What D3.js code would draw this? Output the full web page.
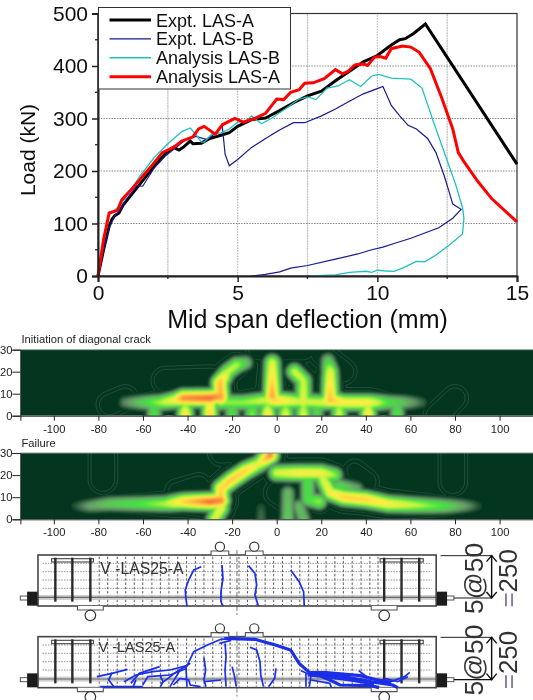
<!DOCTYPE html>
<html><head><meta charset="utf-8">
<script src="https://cdn.jsdelivr.net/npm/d3@7"></script>
<style>html,body{margin:0;padding:0;background:#fff}svg{display:block}text{font-family:"Liberation Sans",Arial,sans-serif}</style>
</head><body><svg id="c" width="533" height="700"></svg>
<script>
// ---------- Load-deflection curves [deflection mm, load kN]
const exptA=[[0,0],[0.2,50],[0.4,95],[0.5,108],[0.6,115],[0.75,120],[0.9,135],[1.2,155],[1.5,175],[1.8,195],[2.1,215],[2.4,232],[2.7,245],[2.9,240],[3.05,245],[3.3,257],[3.4,252],[3.7,253],[4.0,262],[4.4,268],[4.7,273],[5,285],[5.5,298],[6,301],[6.5,315],[7,330],[7.5,343],[8,352],[8.5,372],[9,390],[9.5,408],[10,420],[10.5,440],[10.8,450],[11.0,452],[11.3,462],[11.72,480],[15,213]];
const exptB=[[0,0],[0.2,48],[0.4,92],[0.6,115],[0.8,125],[1.0,145],[1.4,172],[1.6,171],[2,205],[2.4,228],[2.8,245],[3.1,258],[3.5,266],[3.9,260],[4.2,272],[4.45,285],[4.55,232],[4.7,210],[5,222],[5.5,245],[6,262],[6.5,278],[7,292],[7.4,292],[8,305],[8.5,318],[9,333],[9.5,347],[10,357],[10.2,361],[10.5,325],[10.8,305],[11.1,287],[11.4,280],[11.8,262],[12.1,235],[12.4,190],[12.6,155],[12.7,137],[13.0,127],[12.7,110],[12.2,92],[11.7,82],[11.2,72],[10.6,62],[10.2,55],[9.8,50],[9.3,42],[8.5,32],[7.5,20],[6.9,15],[6.5,8],[6,3],[5.5,0]];
const analysisB=[[0,0],[0.2,65],[0.4,118],[0.7,130],[1.0,150],[1.5,190],[2,225],[2.5,252],[3,275],[3.3,282],[3.5,270],[3.7,255],[3.8,255],[4.1,272],[4.4,272],[4.7,280],[5,293],[5.3,295],[5.5,305],[5.85,290],[6.2,300],[6.7,318],[7.2,337],[7.5,341],[7.8,336],[8.2,358],[8.6,362],[9,374],[9.4,361],[9.8,381],[10.05,384],[10.5,377],[11.2,375],[11.6,358],[12,295],[12.5,220],[12.8,175],[13.05,130],[13.1,110],[13.05,80],[12.6,60],[12.1,40],[11.7,27],[11.4,28],[10.9,15],[10.6,9],[10.2,10],[10,11],[9.8,7],[9.6,9],[9,7],[8.5,2],[7.6,0]];
const analysisA=[[0,0],[0.2,70],[0.4,120],[0.7,125],[0.85,145],[1.2,165],[1.6,190],[2,215],[2.3,235],[2.7,245],[3,257],[3.4,265],[3.6,280],[3.8,285],[4.2,270],[4.45,288],[4.9,300],[5.2,293],[5.6,300],[6,310],[6.4,337],[6.65,336],[6.9,350],[7.2,355],[7.4,367],[7.7,368],[8.1,376],[8.5,393],[8.75,385],[8.95,390],[9.2,402],[9.5,404],[9.65,401],[9.9,417],[10.1,418],[10.3,415],[10.5,433],[10.9,438],[11.2,436],[11.5,426],[11.9,395],[12.3,340],[12.7,280],[12.9,235],[13.1,218],[13.6,180],[14.1,147],[15,103]];
const seriesNames=["Expt. LAS-A","Expt. LAS-B","Analysis LAS-B","Analysis LAS-A"];
const xTicks=[0,5,10,15], xMinor=[2.5,7.5,12.5], yTicks=[0,100,200,300,400,500], yMinor=[50,150,250,350,450];
// ---------- Strain-field ridges [x, y, intensity]
const initRidges=[
 [[-68,6,.16],[-60,6,.3],[-52,6,.45],[-46,7,.6],[-42,8,.93],[-30,8,1],[-25,9,.88]],
 [[-25,6,.42],[-15,6,.42],[-5,7,.5],[-1,7,.72],[10,6.5,.5],[20,6,.5],[25,7,.75],[30,6,.62],[41,6,.62],[50,6,.34],[57,6,.26],[65,6,.12]],
 [[-25,8,.85],[-25.5,15,.8],[-22,20,.48],[-18,23,.46],[-14,24,.28]],
 [[-2,9,.88],[-2,15,.72],[-2,24,.55]],
 [[8,20,.5],[12,16,.48],[12,6,.55]],
 [[24,7,.8],[24,20,.55],[23,25,.28]],
 [[-41,0,.72],[-41,5,.4]],[[-30,0,.72],[-30,6,.6]],[[-4,0,.7],[-4,5,.4]],[[4,0,.58],[4,5,.35]],[[12,0,.55],[12,5,.4]],[[28,0,.52],[28,5,.4]],[[41,0,.72],[41,5,.4]],
 [[-20,0,.34],[-20,5,.28]],[[-11,0,.42],[-11,5,.3]],[[18,0,.3],[18,5,.3]],[[-55,0,.36],[-55,5,.28]],[[54,0,.36],[54,5,.28]]];
const failRidges=[
 [[-90,6,.1],[-84,6,.2],[-75,7,.28],[-60,7,.36],[-50,7,.46],[-42,8,.72],[-30,8,1],[-25,8.5,.95]],
 [[-25,8,.8],[-25,14,.72],[-20,18,.76],[-14,22,.72],[-8,25,.55],[-3,29,.95],[-3,33,.85]],
 [[0,21,.52],[10,21,.62],[20,21,.6],[26,20,.42]],
 [[20,20,.5],[24,12,.6],[30,10,.72],[40,9,.72],[50,7,.62],[60,6.5,.5],[75,6,.34],[84,6,.2],[90,6,.1]],
 [[14,17,.34],[14,9,.34],[19,8,.42]],
 [[-25,5,.58],[-28,0,.52]],[[-7,0,.12],[-7,5,.1]],[[5,0,.28],[5,12,.24]],[[12,0,.25],[10,6,.24]],[[28,15,.32],[36,14,.2]]];
const initOutline=[[[-50,16,.55],[-30,17,.5]],[[-8,30,.5],[12,30,.5]],[[20,28,.5],[30,20,.5]],[[-75,5,.5],[-68,8,.5]],[[72,0,.55],[80,8,.5]]];
const failOutline=[[[-78,30,.6],[-78,18,.6]],[[79,30,.6],[79,17,.6]],[[-25,30,.5],[-8,30,.4]],[[-35,15,.5],[-45,13,.4]],[[40,17,.5],[35,22,.4]],[[0,12,.5],[10,5,.5]]];
const fieldXTicks=[-100,-80,-60,-40,-20,0,20,40,60,80,100], fieldYTicks=[0,10,20,30];
// ---------- Beam sketches (digitised sketch units, y in absolute sketch units)
const stirrupX=[163,213,266,1130,1181,1233];
const webGridX=[292,317,345,370,395,420,447,472,497,523,549,575,600,626,652,677,703,728,754,780,805,831,857,882,908,934,959,985,1010,1036,1062,1088,1112];
const webGridY=[25,50,75,100];
const earlyCracks=[
 [[592,95],[570,105],[555,135],[545,165],[547,190],[550,213]],
 [[653,90],[656,130],[650,170],[650,200],[656,213]],
 [[731,92],[750,115],[755,150],[750,180],[760,213]],
 [[855,105],[880,140],[893,170],[895,213]]];
const failThin=[
 [[549,395],[570,350],[610,330],[650,313],[690,310]],[[645,325],[680,316]],
 [[662,325],[665,365],[662,405],[665,455]],[[683,395],[690,425],[695,455]],
 [[735,337],[755,345],[765,380],[767,420],[775,455]],
 [[600,368],[605,405],[600,435],[606,455]],[[812,400],[808,430],[790,455]],
 [[285,425],[330,415],[375,403]],[[385,445],[410,415],[470,395]],[[330,412],[320,435],[335,455]],
 [[475,445],[520,410],[560,385]],[[420,450],[435,425],[500,420],[550,400]],[[470,420],[480,440],[472,455]],
 [[510,450],[530,430],[555,435],[560,450],[590,455]],[[295,455],[370,455],[420,455]],[[600,440],[650,435]],
 [[365,440],[400,420],[450,410],[500,405],[550,392]],[[500,455],[515,430],[530,405]],[[392,455],[400,435]],[[547,395],[550,455]],
 [[885,407],[915,420],[910,455]],[[915,435],[970,445],[975,458]],[[1055,407],[1085,430],[1150,440],[1190,425],[1205,412]],
 [[900,415],[900,455]],[[1130,430],[1170,440],[1200,425]]];
const failThick=[
 [[660,310],[750,313],[810,330],[855,345],[880,385],[910,412],[960,413],[1060,422],[1110,435],[1150,442]],
 [[925,415],[970,435],[1000,450],[1090,452],[1115,458]],
 [[940,418],[1010,425],[1090,440],[1155,450],[1170,458]],
 [[905,420],[960,425],[1030,435],[1100,447]]];
const beamLabel="V -LAS25-A", dimLabelA="5@50", dimLabelB="250";

const svg=d3.select("#c");
const defs=svg.append("defs");
const soft=defs.append("filter").attr("id","soft").attr("x","-5%").attr("y","-5%").attr("width","110%").attr("height","110%");
soft.append("feGaussianBlur").attr("stdDeviation",.8);
const softer=defs.append("filter").attr("id","soft2").attr("x","-5%").attr("y","-5%").attr("width","110%").attr("height","110%");
softer.append("feGaussianBlur").attr("stdDeviation",0.35);

// ========== top chart
const X=d3.scaleLinear().domain([0,15]).range([98,517]);
const Y=d3.scaleLinear().domain([0,500]).range([276,13.5]);
const topG=svg.append("g").attr("filter","url(#soft2)");
topG.append("g").selectAll("line").data([2.5,5,7.5,10,12.5]).join("line")
 .attr("x1",X).attr("x2",X).attr("y1",Y(0)).attr("y2",Y(500))
 .attr("stroke",d=>d%5?"#c4c4c4":"#aaa").attr("stroke-width",d=>d%5?1.3:1).attr("stroke-dasharray",d=>d%5?"2 0.6":"1.5 1.2");
topG.append("g").selectAll("line").data([100,200,300,400]).join("line")
 .attr("x1",X(0)).attr("x2",X(15)).attr("y1",Y).attr("y2",Y)
 .attr("stroke","#888").attr("stroke-width",1).attr("stroke-dasharray","1.5 1.2");
topG.append("rect").attr("x",X(0)).attr("y",Y(500)).attr("width",X(15)-X(0)).attr("height",Y(0)-Y(500)).attr("fill","none").attr("stroke","#333").attr("stroke-width",1.2);
const lineGen=d3.line().x(d=>X(d[0])).y(d=>Y(d[1]));
const styles=[["#000",3],["#1a1a8c",1.2],["#1fc0c0",1.3],["#ff0000",3]];
[exptA,exptB,analysisB,analysisA].forEach((s,i)=>topG.append("path").datum(s).attr("d",lineGen).attr("fill","none")
 .attr("stroke",styles[i][0]).attr("stroke-width",styles[i][1]).attr("stroke-linejoin","miter"));
const ax=topG.append("g").attr("transform",`translate(0,${Y(0)})`).call(d3.axisBottom(X).tickValues(xTicks).tickSize(6).tickPadding(3).tickFormat(d3.format("d")));
ax.select(".domain").attr("stroke","#222").attr("stroke-width",2);
ax.selectAll("line").attr("stroke","#222").attr("stroke-width",1.5);
ax.selectAll("text").attr("font-size",21).attr("fill","#111").attr("font-family","Liberation Sans");
topG.append("g").selectAll("line").data(xMinor).join("line").attr("x1",X).attr("x2",X).attr("y1",Y(0)).attr("y2",Y(0)+3).attr("stroke","#222").attr("stroke-width",1.3);
const ay=topG.append("g").attr("transform",`translate(${X(0)},0)`).call(d3.axisLeft(Y).tickValues(yTicks).tickSize(6).tickPadding(4).tickFormat(d3.format("d")));
ay.select(".domain").attr("stroke","#222").attr("stroke-width",2);
ay.selectAll("line").attr("stroke","#222").attr("stroke-width",1.5);
ay.selectAll("text").attr("font-size",21).attr("fill","#111").attr("font-family","Liberation Sans");
topG.append("g").selectAll("line").data(yMinor).join("line").attr("x1",X(0)-3).attr("x2",X(0)).attr("y1",Y).attr("y2",Y).attr("stroke","#222").attr("stroke-width",1.3);
topG.append("text").attr("x",307.5).attr("y",328).attr("text-anchor","middle").attr("font-size",25).attr("fill","#111").text("Mid span deflection (mm)");
topG.append("text").attr("transform","translate(35,150) rotate(-90)").attr("text-anchor","middle").attr("font-size",21).attr("fill","#111").text("Load (kN)");
const lg=topG.append("g");
lg.append("rect").attr("x",98.5).attr("y",7.5).attr("width",192).attr("height",81.5).attr("fill","#fff").attr("stroke","#333").attr("stroke-width",1);
seriesNames.forEach((n,i)=>{const ly=20+i*18.9;
 lg.append("line").attr("x1",109.5).attr("x2",151).attr("y1",ly).attr("y2",ly).attr("stroke",styles[i][0]).attr("stroke-width",styles[i][1]+(i==1||i==2?.2:0));
 lg.append("text").attr("x",156).attr("y",ly+6.5).attr("font-size",18).attr("fill","#111").text(n);});

// ========== strain fields
function fieldPlot(title,titleY,y0,y1,ridges,outline){
 const left=20.4;
 const fx=d3.scaleLinear().domain([-115,115]).range([left,533]);
 const fy=d3.scaleLinear().domain([0,30]).range([y1,y0]);
 const id="clip"+Math.round(y0); defs.append("clipPath").attr("id",id).append("rect").attr("x",left).attr("y",y0).attr("width",533-left).attr("height",y1-y0);
 const g=svg.append("g");
 g.append("text").attr("x",21.5).attr("y",titleY).attr("font-size",11.2).attr("fill","#222").text(title);
 const pg=g.append("g").attr("clip-path",`url(#${id})`);
 pg.append("rect").attr("x",left).attr("y",y0).attr("width",533-left).attr("height",y1-y0).attr("fill","#04361f");
 const step=1.5,w=Math.ceil((533-left)/step)+1,h=Math.ceil((y1-y0)/step)+1;
 const segs=rs=>rs.flatMap(r=>d3.pairs(r).map(([a,b])=>[fx(a[0]),fy(a[1]),a[2],fx(b[0]),fy(b[1]),b[2]]));
 const calc=(sg,sigma)=>{const v=new Float64Array(w*h),k=1/(2*sigma*sigma);
  for(let j=0;j<h;j++)for(let i=0;i<w;i++){const px=left+i*step,py=y0+j*step;let m=0;
   for(const s of sg){const dx=s[3]-s[0],dy=s[4]-s[1],l=dx*dx+dy*dy;let t=l?((px-s[0])*dx+(py-s[1])*dy)/l:0;t=Math.max(0,Math.min(1,t));
    const qx=s[0]+t*dx-px,qy=s[1]+t*dy-py,val=(s[2]+t*(s[5]-s[2]))*Math.exp(-(qx*qx+qy*qy)*k);if(val>m)m=val;}
   v[i+j*w]=m;}
  return v;};
 const proj=d3.geoPath(d3.geoTransform({point(x,y){this.stream.point(left+(x-.5)*step,y0+(y-.5)*step);}}));
 const broad=calc(segs(ridges.concat(outline)),10);
 pg.append("g").selectAll("path").data(d3.contours().size([w,h]).thresholds([.2,.3])(Array.from(broad))).join("path")
  .attr("d",proj).attr("fill","none").attr("stroke","#7f9f89").attr("stroke-width",.5).attr("opacity",.5);
 const color=d3.scaleLinear().domain([.04,.09,.15,.23,.33,.45,.62,.82,1])
  .range(["#04361f","#2f5f3e","#64906a","#5fc05a","#3fe63f","#c6f53f","#ffee45","#ffb040","#f2623c"]);
 const main=calc(segs(ridges),5.2);
 pg.append("g").attr("filter","url(#soft)").selectAll("path").data(d3.contours().size([w,h]).thresholds(d3.range(.04,1.01,.03))(Array.from(main))).join("path")
  .attr("d",proj).attr("fill",d=>color(d.value));
 g.append("line").attr("x1",left).attr("x2",533).attr("y1",y0).attr("y2",y0).attr("stroke","#8a9a90").attr("stroke-width",1);
 const bx=g.append("g").attr("transform",`translate(0,${y1})`).call(d3.axisBottom(fx).tickValues(fieldXTicks).tickSize(5).tickPadding(4).tickFormat(d=>String(d)));
 bx.select(".domain").attr("stroke","#222"); bx.selectAll("line").attr("stroke","#222");
 bx.selectAll("text").attr("font-size",11.2).attr("fill","#222").attr("font-family","Liberation Sans");
 const by=g.append("g").attr("transform",`translate(${left},0)`).call(d3.axisLeft(fy).tickValues(fieldYTicks).tickSize(8).tickPadding(0).tickFormat(d=>String(d)));
 by.select(".domain").attr("stroke","#222"); by.selectAll("line").attr("stroke","#222");
 by.selectAll("text").attr("font-size",11.2).attr("fill","#222").attr("font-family","Liberation Sans");
}
fieldPlot("Initiation of diagonal crack",343,349.7,415.7,initRidges,initOutline);
fieldPlot("Failure",447,453,519.3,failRidges,failOutline);

// ========== beams
function beam(topU,labelX,labelSize,labelBase,thin,thick){
 const bx=d3.scaleLinear().domain([112,1283]).range([38,436.2]);
 const by=d3.scaleLinear().domain([topU,topU+153]).range([535+topU/3,535+(topU+153)/3]);
 const ry=d=>by(topU+d);
 const g=svg.append("g").attr("filter","url(#soft2)");
 // end anchors
 [[80,112,60],[1283,1315,1335]].forEach(a=>{
  g.append("rect").attr("x",bx(Math.min(a[2],a[0]))).attr("y",ry(123)).attr("width",bx(Math.max(a[1],a[2]))-bx(Math.min(a[0],a[2]))).attr("height",ry(135)-ry(123)).attr("fill","#fff").attr("stroke","#555");
  g.append("rect").attr("x",bx(a[0])).attr("y",ry(110)).attr("width",bx(a[1])-bx(a[0])).attr("height",ry(152)-ry(110)).attr("fill","#1a1a1a");
 });
 g.append("g").selectAll("line").data(webGridX).join("line").attr("x1",bx).attr("x2",bx).attr("y1",ry(5)).attr("y2",ry(150)).attr("stroke","#333").attr("stroke-width",.8).attr("stroke-dasharray","2.5 1.8");
 g.append("g").selectAll("line").data(webGridY).join("line").attr("x1",bx(125)).attr("x2",bx(1270)).attr("y1",ry).attr("y2",ry).attr("stroke","#777").attr("stroke-width",.8).attr("stroke-dasharray","1.5 1.2");
 g.append("rect").attr("x",bx(112)).attr("y",ry(120)).attr("width",bx(1283)-bx(112)).attr("height",ry(135)-ry(120)).attr("fill","#bdbdbd").attr("opacity",.75);
 g.append("line").attr("x1",bx(112)).attr("x2",bx(1283)).attr("y1",ry(127)).attr("y2",ry(127)).attr("stroke","#666").attr("stroke-width",1.2);
 g.append("rect").attr("x",bx(112)).attr("y",ry(0)).attr("width",bx(1283)-bx(112)).attr("height",ry(153)-ry(0)).attr("fill","none").attr("stroke","#444").attr("stroke-width",1.6);
 [[152,275],[1118,1245]].forEach(a=>g.append("rect").attr("x",bx(a[0])).attr("y",ry(11)).attr("width",bx(a[1])-bx(a[0])).attr("height",ry(21)-ry(11)).attr("fill","none").attr("stroke","#555").attr("stroke-width",1.2));
 g.append("g").selectAll("line").data(stirrupX).join("line").attr("x1",bx).attr("x2",bx).attr("y1",ry(8)).attr("y2",ry(140)).attr("stroke","#2a2a2a").attr("stroke-width",2.4);
 // supports
 [266,1130].forEach(c=>{g.append("path").attr("d",`M${bx(c-38)},${ry(153)}V${ry(165)}H${bx(c+38)}V${ry(153)}`).attr("fill","#fff").attr("stroke","#555").attr("stroke-width",1.1);
  g.append("circle").attr("cx",bx(c)).attr("cy",ry(181)).attr("r",5.3).attr("fill","#fff").attr("stroke","#333").attr("stroke-width",1.2);});
 [647,748].forEach(c=>{g.append("path").attr("d",`M${bx(c-26)},${ry(0)}V${ry(-12)}H${bx(c+26)}V${ry(0)}`).attr("fill","#fff").attr("stroke","#555").attr("stroke-width",1.1);
  g.append("circle").attr("cx",bx(c)).attr("cy",ry(-25)).attr("r",4.6).attr("fill","#fff").attr("stroke","#333").attr("stroke-width",1.2);});
 g.append("line").attr("x1",bx(697)).attr("x2",bx(697)).attr("y1",ry(-15)).attr("y2",ry(180)).attr("stroke","#555").attr("stroke-width",.8).attr("stroke-dasharray","5 2");
 g.append("text").attr("x",bx(labelX)).attr("y",ry(labelBase)).attr("font-family","Liberation Serif").attr("font-size",labelSize).attr("fill","#333").text(beamLabel);
 const pl=d3.line().x(d=>bx(d[0])).y(d=>by(d[1]));
 g.append("g").selectAll("path").data(thin).join("path").attr("d",pl).attr("fill","none").attr("stroke","#1a2fe8").attr("stroke-width",1.7);
 g.append("g").selectAll("path").data(thick).join("path").attr("d",pl).attr("fill","none").attr("stroke","#1a2fe8").attr("stroke-width",3.2);
 // dimension
 g.append("line").attr("x1",bx(1296)).attr("x2",bx(1448)).attr("y1",ry(2)).attr("y2",ry(2)).attr("stroke","#222").attr("stroke-width",1);
 g.append("line").attr("x1",bx(1335)).attr("x2",bx(1448)).attr("y1",ry(129)).attr("y2",ry(129)).attr("stroke","#111").attr("stroke-width",1.2);
 g.append("line").attr("x1",bx(1446)).attr("x2",bx(1446)).attr("y1",ry(2)).attr("y2",ry(129)).attr("stroke","#111").attr("stroke-width",1.4);
 g.append("path").attr("d",`M${bx(1431)},${ry(20)}L${bx(1446)},${ry(2)}L${bx(1461)},${ry(20)}M${bx(1431)},${ry(111)}L${bx(1446)},${ry(129)}L${bx(1461)},${ry(111)}`).attr("fill","none").attr("stroke","#111").attr("stroke-width",1.4);
 const t1=g.append("text").attr("transform",`translate(${bx(1420)},${ry(70)}) rotate(-90)`).attr("text-anchor","middle").attr("font-family","Liberation Serif").attr("font-size",26.5).attr("fill","#333");
 t1.text(dimLabelA);
 const t2=g.append("text").attr("transform",`translate(${bx(1520)},${ry(70)}) rotate(-90)`).attr("text-anchor","middle").attr("font-family","Liberation Serif").attr("font-size",26).attr("fill","#333");
 t2.append("tspan").attr("fill","#8878a8").text("=");
 t2.append("tspan").text(dimLabelB);
}
beam(60,295,15.8,58,earlyCracks,[]);
beam(305,290,14.5,47,failThin,failThick);
</script></body></html>
